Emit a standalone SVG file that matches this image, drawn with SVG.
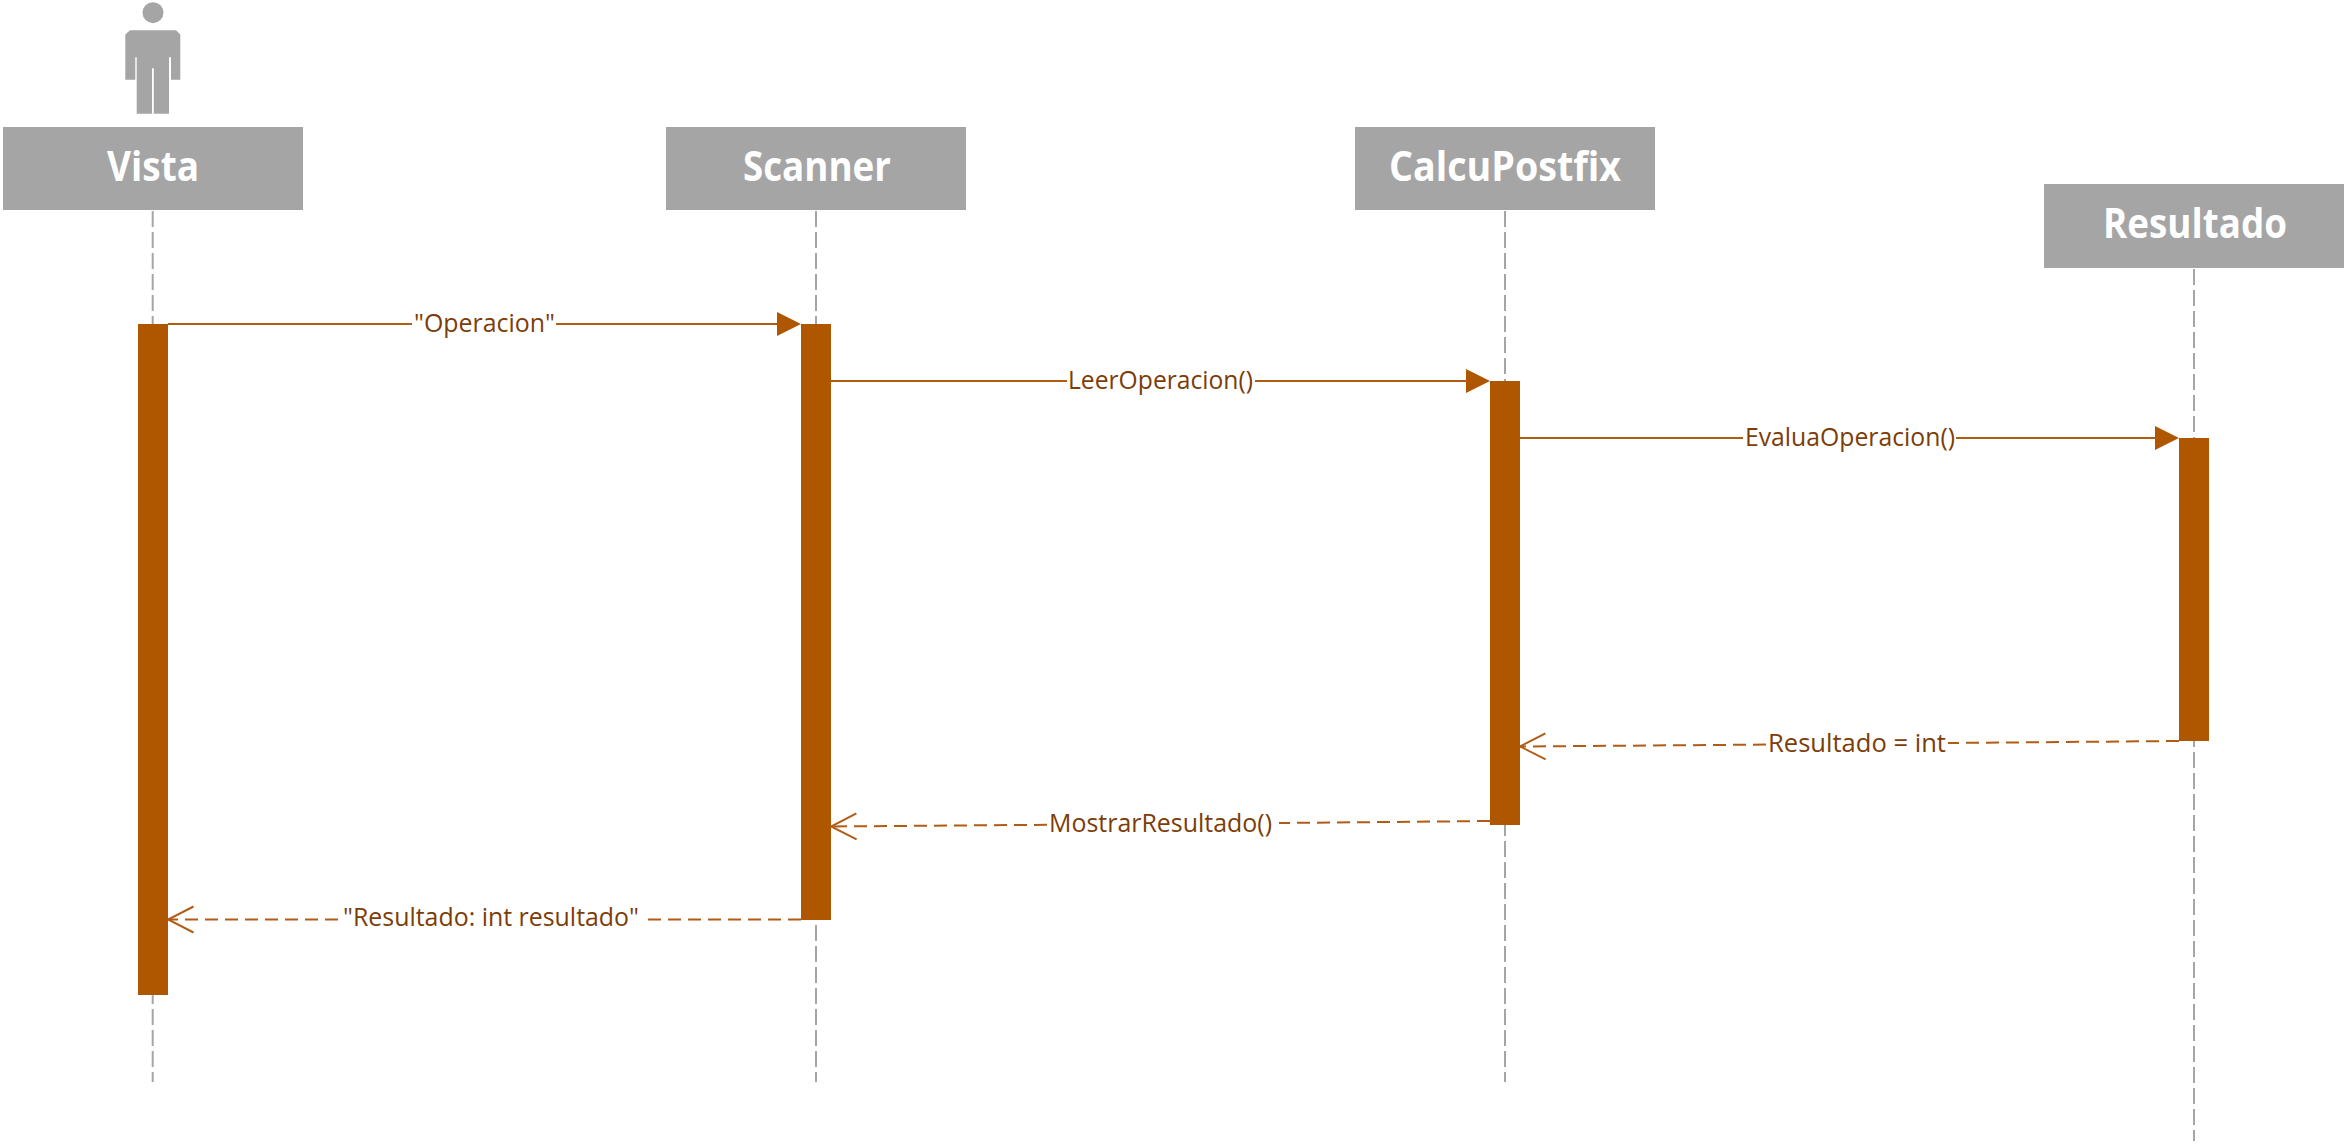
<svg xmlns="http://www.w3.org/2000/svg" width="2347" height="1144" viewBox="0 0 2347 1144">
<style>
.head{fill:#A5A5A5}
.title{font-family:"Open Sans","Noto Sans","Liberation Sans",sans-serif;font-weight:700;font-size:41px;fill:#FFFFFF}
.life{stroke:#A5A5A5;stroke-width:2;stroke-dasharray:16 5;fill:none}
.act{fill:#AF5600}
.msg{stroke:#B05C14;stroke-width:2;fill:none}
.ret{stroke-dasharray:13 7;marker-end:url(#open)}
.call{marker-end:url(#solid)}
.lbl{font-family:"Open Sans","Noto Sans","Liberation Sans",sans-serif;font-size:26px;fill:#7C3D08}
</style>
<defs>
<marker id="solid" markerUnits="userSpaceOnUse" markerWidth="24" markerHeight="24" refX="0" refY="12" orient="auto" viewBox="0 0 24 24"><path d="M0,0L24,12L0,24Z" fill="#AF5600"/></marker>
<marker id="open" markerUnits="userSpaceOnUse" markerWidth="32" markerHeight="32" refX="30" refY="16" orient="auto" viewBox="0 0 32 32"><path d="M4.5,3L30,16L4.5,29" fill="none" stroke="#B05C14" stroke-width="2"/></marker>
</defs>
<rect width="2347" height="1144" fill="#FFFFFF"/>
<g id="node-vista">
<circle class="head" cx="153" cy="12.7" r="10.5"/>
<path class="head" d="M130,30.3H176L180.3,34.5V79.7H171V57.3H169V113.7H153.8V68.3H152V113.7H136.7V57.3H135.3V79.7H125.3V34.5Z"/>
<rect class="head" x="3" y="127" width="300" height="83"/>
<text class="title" x="107" y="181" textLength="92" lengthAdjust="spacingAndGlyphs">Vista</text>
<line class="life" x1="152.7" y1="211" x2="152.7" y2="1082"/>
<rect class="act" x="138" y="324" width="30" height="671"/>
</g>
<g id="node-scanner">
<rect class="head" x="666" y="127" width="300" height="83"/>
<text class="title" x="743" y="181" textLength="148" lengthAdjust="spacingAndGlyphs">Scanner</text>
<line class="life" x1="816" y1="211" x2="816" y2="1082"/>
<rect class="act" x="801" y="324" width="30" height="596"/>
</g>
<g id="node-calcupostfix">
<rect class="head" x="1355" y="127" width="300" height="83"/>
<text class="title" x="1389" y="181" textLength="232" lengthAdjust="spacingAndGlyphs">CalcuPostfix</text>
<line class="life" x1="1505" y1="211" x2="1505" y2="1082"/>
<rect class="act" x="1490" y="381" width="30" height="444"/>
</g>
<g id="node-resultado">
<rect class="head" x="2044" y="184" width="300" height="84"/>
<text class="title" x="2103" y="237.5" textLength="184" lengthAdjust="spacingAndGlyphs">Resultado</text>
<line class="life" x1="2194" y1="269" x2="2194" y2="1141"/>
<rect class="act" x="2179" y="438" width="30" height="303"/>
</g>
<g id="connectors">
<path class="msg call" d="M168,324H412M556,324H777"/>
<path class="msg call" d="M831,381H1067M1255,381H1466"/>
<path class="msg call" d="M1520,438H1743M1956,438H2155"/>
<path class="msg ret" d="M2179,741L1948,743M1766,744.6L1520,746.5"/>
<path class="msg ret" d="M1490,821L1279,823M1047,824.8L831,826.5"/>
<path class="msg ret" d="M801,919.5H644M338,919.5H168"/>
</g>
<g id="labels">
<text class="lbl" x="414" y="331.5" textLength="141" lengthAdjust="spacingAndGlyphs">"Operacion"</text>
<text class="lbl" x="1068" y="389" textLength="185" lengthAdjust="spacingAndGlyphs">LeerOperacion()</text>
<text class="lbl" x="1745" y="446" textLength="210" lengthAdjust="spacingAndGlyphs">EvaluaOperacion()</text>
<text class="lbl" x="1768" y="752" textLength="178" lengthAdjust="spacingAndGlyphs">Resultado = int</text>
<text class="lbl" x="1049" y="832" textLength="223" lengthAdjust="spacingAndGlyphs">MostrarResultado()</text>
<text class="lbl" x="343" y="926" textLength="296" lengthAdjust="spacingAndGlyphs">"Resultado: int resultado"</text>
</g>
</svg>
